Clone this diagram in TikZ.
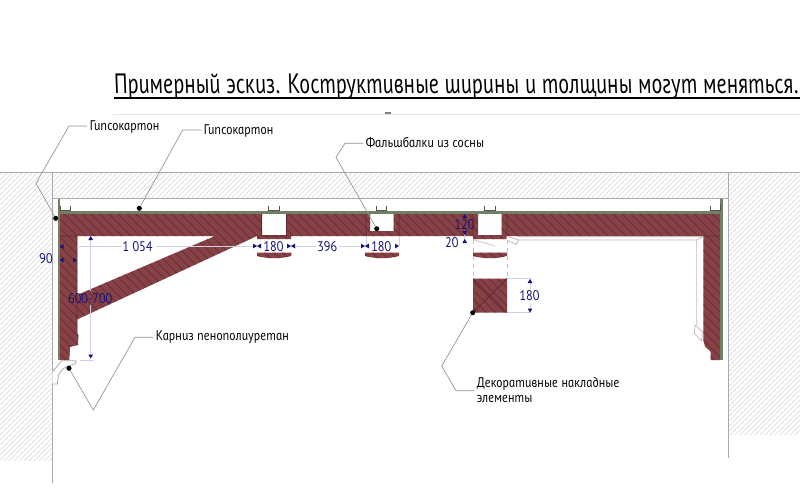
\documentclass[tikz,border=0pt]{standalone}
\usepackage{fontspec}
\newfontfamily\cad[FakeSlant=-0.2,FakeStretch=0.91]{PT Sans Italic}
\newfontfamily\cadt[FakeSlant=-0.2,FakeStretch=0.775]{PT Sans Italic}
\definecolor{brownA}{HTML}{864246}
\definecolor{brownB}{HTML}{61272C}
\definecolor{wallg}{HTML}{ABABAB}
\definecolor{hatchg}{HTML}{D8D8D8}
\definecolor{greenS}{HTML}{727E66}
\definecolor{navyD}{HTML}{14147A}
\definecolor{dimL}{HTML}{CFCFEC}
\definecolor{panelL}{HTML}{CDB9BA}
\tikzset{
 wall/.style={draw=wallg,line width=0.6pt},
 lbl/.style={anchor=base west,inner sep=0pt,font=\cad\fontsize{10.5}{13}\selectfont,text=black},
 dimt/.style={inner sep=0pt,font=\cad\fontsize{10.5}{13}\selectfont,text=navyD},
 dimline/.style={draw=dimL,line width=0.6pt},
 leader/.style={draw=gray!85,line width=0.5pt},
 dotm/.style={circle,fill=black,inner sep=0pt,minimum size=3.8pt},
 chan/.style={draw=greenS!70!black,line width=0.7pt},
 panel/.style={draw=panelL,line width=0.6pt,fill=white},
}
\newcommand\brownshape{
 (59.3,213.5)--(262,213.5)--(262,235)--(286,235)--(286,213.5)--(370,213.5)--(370,231)--(393.5,231)--(393.5,213.5)--(478,213.5)--(478,235)--(501.5,235)--(501.5,213.5)--(720,213.5)--(720,360)--(710.7,360)--(710.7,351.7)--(705,346.5)--(703.3,340)--(703.3,236)--(507,236)--(507,239)--(473,239)--(473,236)--(291,236)--(291,239)--(257,239)--(257,236)--(77,236)--(77,332)--(78.5,335)--(78,345)--(70,347)--(69.3,360)--(59.3,360)--cycle
 (215,236)--(257,236)--(77,319.5)--(77,295)--cycle
 (257,252.7)--(291.3,252.7)--(291.3,256)..controls (280,259) and (268,259)..(257,256)--cycle
 (365,252.7)--(399,252.7)--(399,256)..controls (388,259) and (376,259)..(365,256)--cycle
 (473,252.7)--(507,252.7)--(507,256)..controls (496,259) and (484,259)..(473,256)--cycle
 (473,278.7)--(507,278.7)--(507,312.7)--(473,312.7)--cycle
}
\newcommand\tU[2]{\fill[navyD] (#1,#2)--++(-2.4,4)--++(4.8,0)--cycle;}
\newcommand\tD[2]{\fill[navyD] (#1,#2)--++(-2.4,-4)--++(4.8,0)--cycle;}
\newcommand\tL[2]{\fill[navyD] (#1,#2)--++(4,-2.4)--++(0,4.8)--cycle;}
\newcommand\tR[2]{\fill[navyD] (#1,#2)--++(-4,-2.4)--++(0,4.8)--cycle;}
\begin{document}
\begin{tikzpicture}[x=0.75pt,y=-0.75pt]
\useasboundingbox (0,0) rectangle (800,500);
\fill[white] (0,0) rectangle (800,500);
% wall hatching
\begin{scope}
\clip (0,172.5) rectangle (52.3,461) (52.3,172.5) rectangle (728,198.5) (728,172.5) rectangle (800,435);
\foreach \i in {-500,-495,...,800} \draw[hatchg,line width=0.45pt] (\i,500)--++(500,-500);
\end{scope}
\draw[wall] (0,172.5)--(800,172.5);
\draw[wall] (52.5,172.5)--(52.5,483);
\draw[wall] (728,172.5)--(728,458);
\draw[wall] (52.5,198.5)--(728,198.5);
% thin top line and mark
\draw[black!10,line width=0.5pt] (113,114)--(800,114);
\draw[gray,line width=0.8pt] (385,113)--(391,113);
% brown structure
\fill[brownA] \brownshape;
\begin{scope}
\clip \brownshape;
\foreach \i in {-400,-391,...,800} \draw[brownB,line width=0.9pt,opacity=.55] (\i,200)--++(180,180);
\end{scope}
\draw[brownB,line width=0.5pt] (59.3,236)--(77,236)--(77,332) (473,278.7)--(507,312.7) (507,278.7)--(473,312.7) (703.3,236)--(720,236) (261.5,213.5)--(261.5,235) (286.5,213.5)--(286.5,235) (366,213.5)--(366,236) (399,213.5)--(399,236) (473,213.5)--(473,236) (507,213.5)--(507,236) (257,236)--(291,236);
% gypsum strips
\fill[greenS] (58,211.2)rectangle(722.7,213.5);
\fill[greenS] (58,198.5)rectangle(59.5,360);
\fill[greenS] (720,198.5)rectangle(722.7,360);
% channels
\draw[chan] (60,206)--(60,210.7)--(70,210.7)--(70,206);
\draw[chan] (268.3,206)--(268.3,210.7)--(279,210.7)--(279,206);
\draw[chan] (376,206)--(376,210.7)--(386.7,210.7)--(386.7,206);
\draw[chan] (484.3,206)--(484.3,210.7)--(495,210.7)--(495,206);
\draw[chan] (710,206)--(710,210.7)--(720,210.7)--(720,204);
% right panel
\draw[panel,fill=none] (518,236.6)--(703,236.6) (518,240)--(696.7,240)--(696.7,325) (703,236.6)--(696.7,240);
\draw[panel] (506.7,236)--(518.3,240)--(516.3,244.5)--(506.7,240);
\draw[panel] (695,325)--(702.3,331.7)--(701.7,341)--(694.3,333.3)--cycle;
\draw[panelL,line width=0.5pt] (473,239.5)--(495,246);
% dashed guides
\draw[dimL!80!gray,dashed,line width=0.6pt] (473,240)--(473,278) (507,240)--(507,278);
% cornice
\draw[wallg,line width=0.6pt,fill=white] (52.3,371.7)--(58.3,365)--(61.7,360.7)--(76,360.7)--(75,364)--(71.7,365)..controls (62,367) and (58,374)..(58,378)--(57.3,384)--(52.3,384);
% dimensions
\draw[dimline] (77,246)--(122,246) (156,246)--(257,246);
\draw[dimline] (291,246)--(316,246) (339,246)--(365,246);
\draw[dimline] (366,236)--(366,246) (399,236)--(399,246);
\draw[dimline] (90.7,236)--(90.7,291) (90.7,305)--(90.7,358) (80,360)--(94,360);
\draw[dimline] (464.7,234)--(464.7,242);
\draw[dimline] (507,278.7)--(531,278.7) (507,312.7)--(531,312.7) (530,279)--(530,289) (530,303)--(530,312);
\tL{59.6}{246.5}\tL{59.6}{260}\tR{77}{260}
\tR{257}{246}\tL{257}{246}\tR{291}{246}\tL{291}{246}\tR{365}{246}\tL{365}{246}\tR{399}{246}
\tU{90.7}{236}\tD{90.7}{358.5}
\tU{464.7}{214}\tD{464.7}{235}\tU{464.7}{239}
\tU{530}{279}\tD{530}{312.5}
\node[dimt] (d90) at (46.5,259) {90};
\node[dimt] (d1054) at (138,246.5) {1 054};
\node[dimt] (d180a) at (274,246.5) {180};
\node[dimt] (d396) at (327.7,246.5) {396};
\node[dimt] (d180b) at (381.7,246.5) {180};
\node[dimt] (d600) at (90.7,298.5) {600-700};
\node[dimt] (d120) at (465,225) {120};
\node[dimt] (d20) at (452.3,242.7) {20};
\node[dimt] (d180c) at (530,296) {180};
% title
\node[anchor=base west,inner sep=0pt,font=\cadt\fontsize{21}{25}\selectfont,text=black] (title) at (115,93) {Примерный эскиз. Коструктивные ширины и толщины могут меняться.};
\draw[black,line width=1.5pt] (114,98)--(800,98);
% labels and leaders
\node[lbl] (t1) at (90,130) {Гипсокартон};
\node[lbl] (t2) at (204,134) {Гипсокартон};
\node[lbl] (t3) at (366,147) {Фальшбалки из сосны};
\node[lbl] (t4) at (156,340.5) {Карниз пенополиуретан};
\node[lbl] (t5) at (477,387) {Декоративные накладные};
\node[lbl] (t6) at (477,402.5) {элементы};
\node[dotm] (p1) at (55.7,218.3) {};
\node[dotm] (p2) at (139.3,208.3) {};
\node[dotm] (p3) at (376.7,228.7) {};
\node[dotm] (p4) at (69,368.3) {};
\node[dotm] (p5) at (472.7,312.7) {};
\coordinate (e1) at (87,126);
\coordinate (e2) at (201.7,130);
\coordinate (e3) at (363.3,143.3);
\coordinate (e4) at (153.3,337.3);
\coordinate (e5) at (474.3,390.7);
\draw[leader] (e1)--(69,126)--(36,183.3)--(p1);
\draw[leader] (e2)--(182.7,130)--(p2);
\draw[leader] (e3)--(345,143.3)--(336,157.3)--(p3);
\draw[leader] (e4)--(135,337.3)--(93.3,410)--(p4);
\draw[leader] (e5)--(456,390.7)--(441.7,366)--(p5);
\end{tikzpicture}
\end{document}
